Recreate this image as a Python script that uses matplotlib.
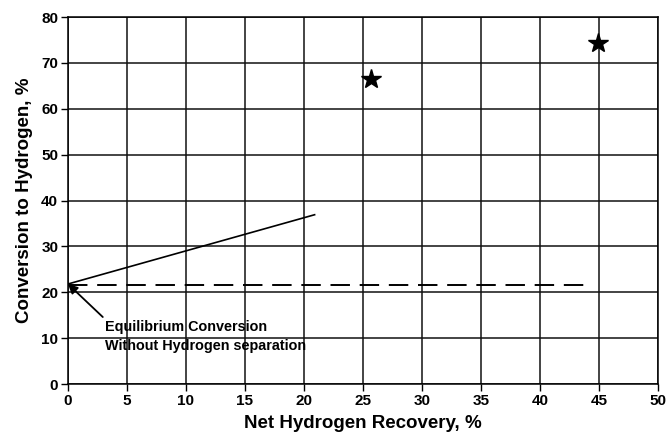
import matplotlib.pyplot as plt

# data
membrane_x = [0, 20.9]
membrane_y = [21.8, 36.9]
equil_x = [0, 44.5]
equil_y = [21.5, 21.5]
star_x = [25.65, 44.95]
star_y = [66.5, 74.4]

plt.rcParams['font.family'] = ['Liberation Sans', 'DejaVu Sans']
plt.rcParams['font.weight'] = 'bold'

fig = plt.figure(figsize=(6.69, 4.34), dpi=100)
ax = fig.add_axes([0.1016, 0.1152, 0.882, 0.8456])

ax.plot(membrane_x, membrane_y, color='black', lw=1.2, zorder=3)
ax.plot(equil_x, equil_y, color='black', lw=1.4, dashes=(10, 5), zorder=3)
ax.plot(star_x, star_y, linestyle='none', marker='*', color='black',
        markersize=15, zorder=4)

ax.annotate('', xy=(0, 21.8), xytext=(2.95, 14.6),
            arrowprops=dict(arrowstyle='-|>', color='black', lw=1.3,
                            mutation_scale=14, shrinkA=0, shrinkB=0))
ax.text(3.1, 10.35, 'Equilibrium Conversion\nWithout Hydrogen separation',
        fontsize=10.4, fontweight='bold', ha='left', va='center',
        linespacing=1.45)

ax.set_xlim(0, 50)
ax.set_ylim(0, 80)
ax.set_xticks(range(0, 51, 5))
ax.set_yticks(range(0, 81, 10))
ax.grid(True, color='#111111', lw=1.1)
ax.set_axisbelow(True)
for s in ax.spines.values():
    s.set_linewidth(1.1)
ax.tick_params(direction='out', length=5, width=1.0, labelsize=11, pad=2)
for lab in ax.get_xticklabels() + ax.get_yticklabels():
    lab.set_fontweight('bold')

ax.set_xlabel('Net Hydrogen Recovery, %', fontsize=13.5, fontweight='bold', labelpad=5)
ax.set_ylabel('Conversion to Hydrogen, %', fontsize=13.5, fontweight='bold', labelpad=6)

plt.savefig('out.png', dpi=100)
